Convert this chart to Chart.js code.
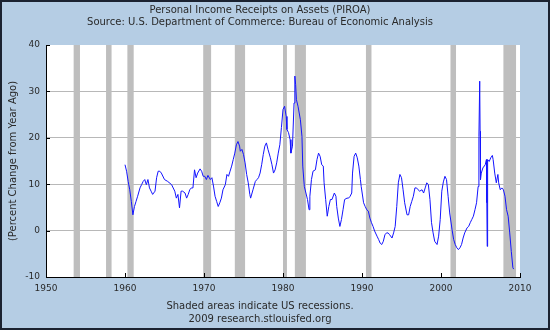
<!DOCTYPE html>
<html>
<head>
<meta charset="utf-8">
<script src="https://cdn.jsdelivr.net/npm/chart.js@4.4.1/dist/chart.umd.min.js"></script>
<style>
  html, body { margin: 0; padding: 0; background: #B5CDE4; }
  canvas { display: block; }
</style>
</head>
<body>
<canvas id="piroaChart" width="550" height="330"></canvas>
<script>
// Series (year, percent change from year ago)
const years = [
  1960.0, 1960.2, 1960.4, 1960.6, 1960.8, 1961.0, 1961.2, 1961.4, 1961.6, 1961.9,
  1962.1, 1962.3, 1962.5, 1962.7, 1962.9, 1963.1, 1963.3, 1963.5, 1963.8, 1964.0,
  1964.2, 1964.4, 1964.6, 1965.0, 1965.4, 1965.9, 1966.3, 1966.5, 1966.7, 1966.9,
  1967.1, 1967.3, 1967.6, 1967.8, 1968.0, 1968.2, 1968.4, 1968.6, 1968.8, 1969.0,
  1969.2, 1969.5, 1969.7, 1969.9, 1970.1, 1970.3, 1970.5, 1970.8, 1971.0, 1971.2,
  1971.4, 1971.6, 1971.8, 1972.0, 1972.2, 1972.4, 1972.7, 1972.9, 1973.1, 1973.3,
  1973.5, 1973.7, 1973.9, 1974.1, 1974.3, 1974.5, 1974.6, 1974.8, 1975.0, 1975.2,
  1975.4, 1975.6, 1975.8, 1975.9, 1976.2, 1976.5, 1976.7, 1976.9, 1977.1, 1977.3,
  1977.5, 1977.7, 1977.9, 1978.1, 1978.4, 1978.6, 1978.8, 1979.0, 1979.2, 1979.4,
  1979.6, 1979.8, 1980.0, 1980.2, 1980.4, 1980.5, 1980.7, 1980.9, 1981.0, 1981.2,
  1981.4, 1981.5, 1981.6, 1981.7, 1981.9, 1982.2, 1982.4, 1982.5, 1982.7, 1982.9,
  1983.1, 1983.3, 1983.4, 1983.6, 1983.8, 1984.1, 1984.3, 1984.5, 1984.7, 1984.9,
  1985.1, 1985.2, 1985.4, 1985.6, 1985.8, 1986.0, 1986.2, 1986.5, 1986.7, 1986.8,
  1987.0, 1987.2, 1987.4, 1987.6, 1987.8, 1988.1, 1988.3, 1988.5, 1988.7, 1988.8,
  1989.0, 1989.2, 1989.4, 1989.6, 1989.8, 1989.9, 1990.2, 1990.4, 1990.6, 1990.8,
  1991.0, 1991.2, 1991.4, 1991.6, 1991.9, 1992.1, 1992.3, 1992.5, 1992.7, 1992.9,
  1993.1, 1993.3, 1993.5, 1993.8, 1994.0, 1994.2, 1994.4, 1994.6, 1994.8, 1995.0,
  1995.2, 1995.4, 1995.7, 1995.9, 1996.1, 1996.3, 1996.5, 1996.7, 1996.9, 1997.1,
  1997.3, 1997.6, 1997.8, 1998.0, 1998.2, 1998.4, 1998.6, 1998.8, 1999.0, 1999.2,
  1999.5, 1999.7, 1999.9, 2000.1, 2000.3, 2000.5, 2000.7, 2000.9, 2001.1, 2001.4,
  2001.6, 2001.8, 2002.0, 2002.2, 2002.4, 2002.6, 2002.8, 2003.0, 2003.3, 2003.5,
  2003.7, 2003.9, 2004.1, 2004.3, 2004.5, 2004.7, 2004.8, 2004.9, 2004.95, 2005.0,
  2005.1, 2005.3, 2005.6, 2005.75, 2005.8, 2005.85, 2005.9, 2006.1, 2006.3, 2006.5,
  2006.6, 2006.8, 2007.0, 2007.2, 2007.3, 2007.5, 2007.7, 2007.9, 2008.1, 2008.3,
  2008.5, 2008.7, 2008.9, 2009.1, 2009.2
];
const values = [
  14.2, 12.8, 10.6, 8.8, 6.3, 3.4, 5.2, 6.3, 7.4, 9.2,
  9.9, 10.6, 11.0, 9.9, 11.0, 9.2, 8.5, 7.8, 8.5, 11.4,
  12.8, 12.8, 12.4, 11.0, 10.6, 9.9, 8.5, 7.0, 7.8, 4.9,
  8.5, 8.5, 8.1, 7.0, 7.8, 8.8, 9.2, 9.2, 13.1, 11.4,
  12.4, 13.3, 12.8, 11.7, 11.7, 11.0, 11.9, 11.0, 11.4, 9.6,
  7.4, 6.3, 5.2, 6.0, 7.0, 8.8, 9.9, 12.1, 11.7, 12.8,
  13.9, 15.3, 16.7, 18.5, 19.2, 18.2, 17.1, 17.5, 16.4, 14.6,
  12.1, 10.3, 7.8, 7.0, 8.8, 10.6, 11.0, 11.4, 12.4, 14.2,
  16.4, 18.2, 18.9, 17.5, 15.7, 14.2, 12.4, 13.1, 14.6, 16.7,
  18.5, 22.2, 26.1, 26.8, 24.6, 21.8, 21.1, 19.6, 16.7, 18.2,
  27.5, 33.3, 31.5, 28.2, 26.8, 23.9, 20.3, 13.9, 9.5, 8.1,
  6.7, 4.5, 7.4, 11.0, 12.8, 13.1, 15.3, 16.7, 16.0, 14.2,
  13.9, 10.3, 6.7, 3.1, 5.2, 6.7, 6.7, 8.1, 7.4, 5.2,
  2.7, 0.9, 2.4, 4.5, 6.7, 7.0, 7.0, 7.4, 8.1, 12.4,
  16.0, 16.7, 15.7, 13.9, 11.0, 9.5, 6.0, 5.2, 4.5, 4.2,
  2.7, 1.7, 0.9, -0.1, -1.2, -1.9, -2.7, -3.0, -2.3, -0.9,
  -0.5, -0.5, -0.9, -1.6, -0.5, 0.9, 5.2, 10.3, 12.1, 11.4,
  8.8, 6.0, 3.4, 3.4, 5.2, 6.3, 7.4, 9.2, 9.2, 8.8,
  8.5, 8.8, 8.1, 9.2, 10.3, 9.9, 6.7, 1.7, -0.5, -2.3,
  -3.0, -1.2, 2.4, 8.5, 10.5, 11.7, 11.0, 7.4, 3.8, 0.2,
  -1.9, -3.0, -3.7, -4.1, -3.7, -3.0, -1.6, -0.5, 0.6, 0.9,
  1.7, 2.4, 3.1, 4.5, 6.0, 9.5, 20.3, 32.2, 21.4, 11.0,
  12.4, 13.5, 14.2, 15.3, 6.0, -3.4, 15.3, 14.9, 15.7, 16.2,
  15.3, 12.4, 10.3, 12.1, 10.3, 8.8, 9.2, 8.8, 7.4, 4.5,
  3.1, -0.5, -4.5, -8.0, -8.3
];

// US recessions (shaded)
const recessionStart = [1953.5, 1957.6, 1960.3, 1969.9, 1973.9, 1980.0, 1981.5, 1990.5, 2001.2, 2007.9];
const recessionEnd   = [1954.3, 1958.3, 1961.1, 1970.9, 1975.2, 1980.5, 1982.9, 1991.2, 2001.9, 2009.5];

const xTicks = [1950, 1960, 1970, 1980, 1990, 2000, 2010];
const yTicks = [-10, 0, 10, 20, 30, 40];

const titleLines = [
  'Personal Income Receipts on Assets (PIROA)',
  'Source: U.S. Department of Commerce: Bureau of Economic Analysis'
];
const footerLines = [
  'Shaded areas indicate US recessions.',
  '2009 research.stlouisfed.org'
];

const FONT = 'DejaVu Sans, Verdana, sans-serif';
const TEXT = '#2a2a2a';

// backdrop, recession bars, inward tick marks
const fredDecor = {
  id: 'fredDecor',
  beforeDraw(chart) {
    const {ctx, chartArea: a, width, height} = chart;
    ctx.save();
    ctx.fillStyle = '#B5CDE4';
    ctx.fillRect(0, 0, width, height);
    ctx.fillStyle = '#fff';
    ctx.fillRect(a.left, a.top, a.right - a.left, a.bottom - a.top);
    ctx.restore();
  },
  beforeDatasetsDraw(chart) {
    const {ctx, chartArea: a, scales} = chart;
    ctx.save();
    ctx.fillStyle = '#bebebe';
    recessionStart.forEach((s, i) => {
      const x0 = scales.x.getPixelForValue(s);
      const x1 = scales.x.getPixelForValue(recessionEnd[i]);
      ctx.fillRect(x0, a.top, x1 - x0, a.bottom - a.top);
    });
    ctx.restore();
  },
  afterDraw(chart) {
    const {ctx, chartArea: a, scales, width, height} = chart;
    ctx.save();
    ctx.strokeStyle = '#000';
    ctx.lineWidth = 1;
    ctx.beginPath();
    yTicks.forEach(v => {
      const y = Math.round(scales.y.getPixelForValue(v)) + 0.5;
      ctx.moveTo(a.left, y); ctx.lineTo(a.left + 4, y);
    });
    xTicks.forEach(v => {
      const x = Math.round(scales.x.getPixelForValue(v)) + 0.5;
      ctx.moveTo(x, a.bottom); ctx.lineTo(x, a.bottom - 4);
    });
    ctx.stroke();
    // outer frame
    ctx.strokeStyle = '#1b2230';
    ctx.lineWidth = 2;
    ctx.strokeRect(1, 1, width - 2, height - 2);
    ctx.restore();
  }
};

const ctx = document.getElementById('piroaChart').getContext('2d');
new Chart(ctx, {
  type: 'line',
  data: {
    datasets: [{
      label: 'PIROA',
      data: years.map((yr, i) => ({x: yr, y: values[i]})),
      borderColor: '#1414ff',
      borderWidth: 1,
      pointRadius: 0,
      tension: 0,
      fill: false
    }]
  },
  options: {
    responsive: false,
    animation: false,
    layout: { padding: { left: 0, right: 30, top: 0, bottom: 0 } },
    plugins: {
      legend: { display: false },
      tooltip: { enabled: false },
      title: {
        display: true,
        text: titleLines,
        color: TEXT,
        font: { family: FONT, size: 10, weight: 'normal', lineHeight: 1.2 },
        padding: { top: 4, bottom: 17 }
      },
      subtitle: {
        display: true,
        position: 'bottom',
        text: footerLines,
        color: TEXT,
        font: { family: FONT, size: 10, weight: 'normal', lineHeight: 1.25 },
        padding: { top: 5.25, bottom: 4.75 }
      }
    },
    scales: {
      x: {
        type: 'linear',
        min: 1950,
        max: 2010,
        afterFit: s => { s.height = 18; },
        afterBuildTicks: s => { s.ticks = xTicks.map(v => ({value: v})); },
        ticks: {
          color: TEXT,
          font: { family: FONT, size: 9 },
          padding: 6,
          maxRotation: 0,
          callback: v => String(v)
        },
        grid: { display: false, drawTicks: false },
        border: { display: true, color: '#000', width: 1 }
      },
      y: {
        min: -10,
        max: 40,
        afterFit: s => { s.width = 46; },
        afterBuildTicks: s => { s.ticks = yTicks.map(v => ({value: v})); },
        ticks: {
          color: TEXT,
          font: { family: FONT, size: 9 },
          padding: 6
        },
        grid: {
          drawTicks: false,
          color: c => (c.tick && (c.tick.value === 40 || c.tick.value === -10)) ? 'rgba(0,0,0,0)' : '#b8b8b8',
          lineWidth: 1
        },
        border: { display: true, color: '#000', width: 1 },
        title: {
          display: true,
          text: '(Percent Change from Year Ago)',
          color: TEXT,
          font: { family: FONT, size: 10, lineHeight: 1.2 },
          padding: { top: 7.5, bottom: 0 }
        }
      }
    }
  },
  plugins: [fredDecor]
});
</script>
</body>
</html>
